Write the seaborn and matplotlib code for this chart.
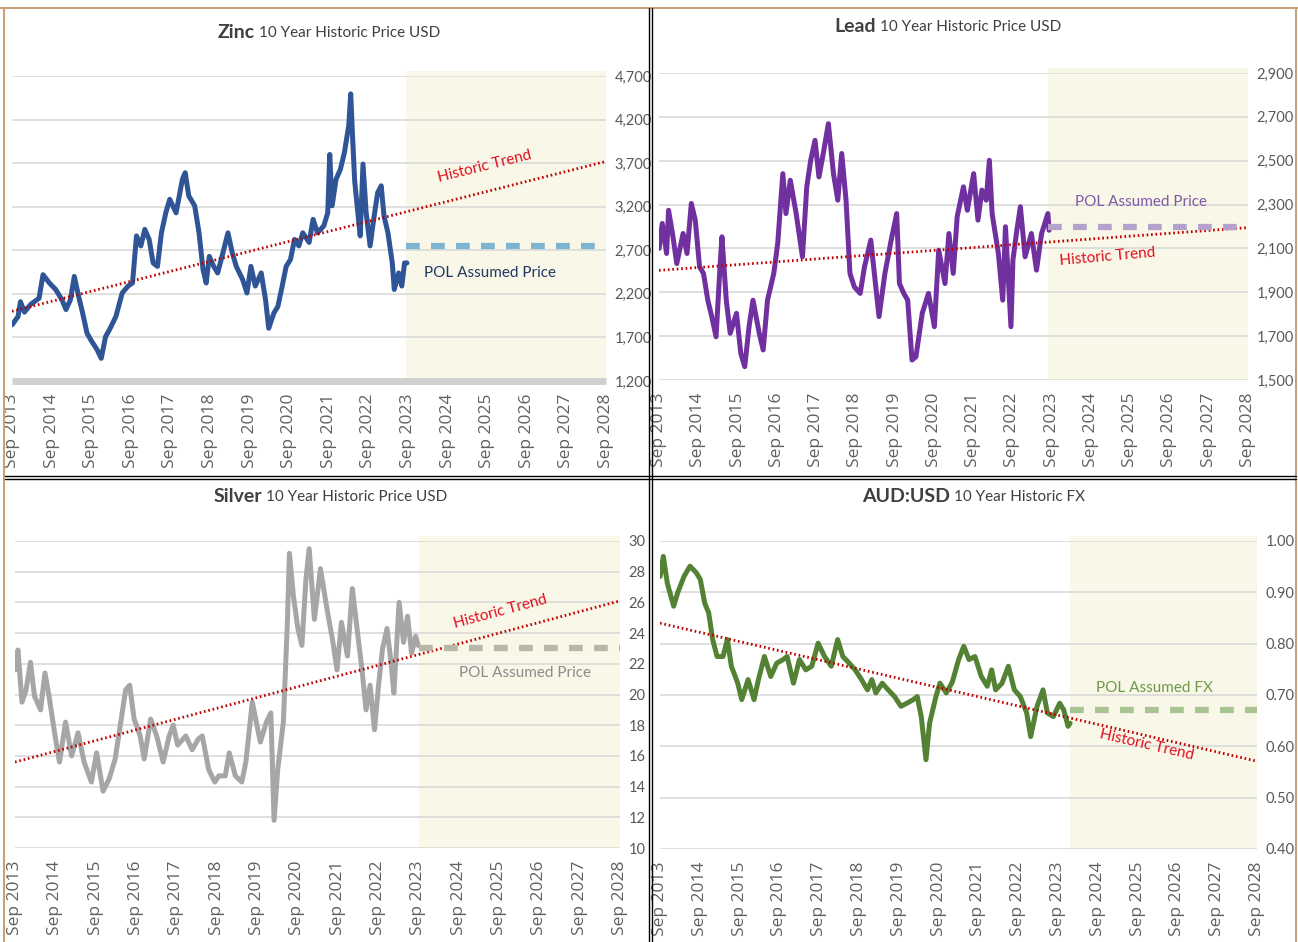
import numpy as np
import pandas as pd
import matplotlib
matplotlib.use('Agg')
import matplotlib.pyplot as plt
import seaborn as sns
from matplotlib.lines import Line2D

# --- data (decimal years, Sep = .667) ---
zinc_x = [2013.67, 2013.82, 2013.88, 2013.98, 2014.14, 2014.35, 2014.45, 2014.61, 2014.77, 2014.93,
          2015.03, 2015.14, 2015.24, 2015.35, 2015.45, 2015.56, 2015.66, 2015.82, 2015.92, 2016.03,
          2016.13, 2016.29, 2016.45, 2016.60, 2016.71, 2016.81, 2016.92, 2017.02, 2017.13, 2017.23,
          2017.34, 2017.44, 2017.55, 2017.65, 2017.81, 2017.97, 2018.04, 2018.13, 2018.28, 2018.39,
          2018.49, 2018.57, 2018.65, 2018.76, 2018.86, 2018.97, 2019.12, 2019.23, 2019.33, 2019.49,
          2019.60, 2019.70, 2019.81, 2019.96, 2020.07, 2020.15, 2020.28, 2020.38, 2020.49, 2020.59,
          2020.70, 2020.80, 2020.91, 2021.01, 2021.17, 2021.27, 2021.38, 2021.54, 2021.64, 2021.69,
          2021.75, 2021.85, 2021.96, 2022.06, 2022.17, 2022.22, 2022.27, 2022.32, 2022.40, 2022.46,
          2022.53, 2022.61, 2022.71, 2022.80, 2022.90, 2022.99, 2023.06, 2023.16, 2023.27, 2023.32,
          2023.43, 2023.51, 2023.58, 2023.64]
zinc_y = [1845, 1940, 2110, 1990, 2080, 2150, 2420, 2325, 2250, 2130,
          2020, 2130, 2400, 2170, 1980, 1750, 1670, 1555, 1460, 1710,
          1790, 1940, 2210, 2290, 2325, 2865, 2750, 2940, 2825, 2555,
          2515, 2900, 3130, 3285, 3130, 3515, 3590, 3325, 3210, 2900,
          2480, 2325, 2630, 2515, 2440, 2630, 2900, 2670, 2515, 2365,
          2210, 2515, 2290, 2440, 2130, 1805, 1980, 2055, 2290, 2515,
          2595, 2825, 2750, 2900, 2790, 3055, 2900, 2980, 3130, 3800,
          3210, 3515, 3630, 3820, 4130, 4495, 3975, 3495, 3130, 2865,
          3690, 3130, 2750, 3055, 3360, 3440, 3095, 2900, 2555, 2250,
          2440, 2290, 2555, 2555]

lead_x = [2013.67, 2013.75, 2013.86, 2013.91, 2014.01, 2014.12, 2014.28, 2014.38, 2014.49, 2014.59,
          2014.70, 2014.80, 2014.91, 2015.01, 2015.12, 2015.22, 2015.27, 2015.38, 2015.48, 2015.64,
          2015.75, 2015.85, 2015.96, 2016.06, 2016.22, 2016.32, 2016.43, 2016.59, 2016.69, 2016.82,
          2016.90, 2017.01, 2017.16, 2017.32, 2017.43, 2017.53, 2017.64, 2017.74, 2017.85, 2017.98,
          2018.11, 2018.22, 2018.32, 2018.43, 2018.53, 2018.64, 2018.79, 2018.90, 2019.06, 2019.16,
          2019.27, 2019.42, 2019.58, 2019.72, 2019.79, 2019.90, 2020.00, 2020.11, 2020.21, 2020.37,
          2020.53, 2020.68, 2020.79, 2020.95, 2021.05, 2021.16, 2021.26, 2021.42, 2021.52, 2021.68,
          2021.79, 2021.89, 2022.00, 2022.08, 2022.15, 2022.31, 2022.42, 2022.49, 2022.63, 2022.68,
          2022.78, 2022.87, 2022.99, 2023.15, 2023.28, 2023.41, 2023.57, 2023.60]
lead_y = [2100, 2214, 2077, 2274, 2168, 2031, 2168, 2077, 2305, 2229,
          2016, 1986, 1864, 1789, 1697, 2016, 2153, 1864, 1713, 1804,
          1621, 1561, 1743, 1864, 1713, 1637, 1864, 1986, 2123, 2441,
          2259, 2411, 2259, 2062, 2381, 2502, 2593, 2426, 2533, 2669,
          2441, 2320, 2533, 2320, 1986, 1925, 1895, 2016, 2138, 1971,
          1789, 1986, 2138, 2259, 1940, 1895, 1864, 1591, 1606, 1804,
          1895, 1743, 2092, 1940, 2168, 1986, 2244, 2381, 2274, 2441,
          2229, 2366, 2320, 2502, 2259, 2077, 1864, 2199, 1743, 2047,
          2183, 2290, 2062, 2168, 2001, 2168, 2259, 2183]

silver_x = [2013.67, 2013.74, 2013.84, 2013.94, 2014.05, 2014.15, 2014.30, 2014.41, 2014.51, 2014.66,
            2014.77, 2014.92, 2015.07, 2015.23, 2015.38, 2015.56, 2015.69, 2015.85, 2016.00, 2016.15,
            2016.26, 2016.41, 2016.51, 2016.62, 2016.77, 2016.87, 2017.03, 2017.18, 2017.34, 2017.49,
            2017.59, 2017.70, 2017.90, 2018.06, 2018.21, 2018.31, 2018.47, 2018.62, 2018.72, 2018.88,
            2018.98, 2019.13, 2019.29, 2019.39, 2019.55, 2019.65, 2019.75, 2019.90, 2020.01, 2020.09,
            2020.18, 2020.32, 2020.42, 2020.47, 2020.57, 2020.68, 2020.78, 2020.88, 2020.96, 2021.09,
            2021.24, 2021.40, 2021.55, 2021.65, 2021.76, 2021.91, 2022.03, 2022.17, 2022.27, 2022.37,
            2022.47, 2022.58, 2022.68, 2022.78, 2022.89, 2022.99, 2023.06, 2023.19, 2023.30, 2023.40,
            2023.50, 2023.60, 2023.66]
silver_y = [21.6, 22.9, 19.5, 20.3, 22.1, 19.9, 19.0, 21.4, 19.9, 17.3,
            15.6, 18.2, 16.0, 17.5, 15.6, 14.3, 16.2, 13.7, 14.5, 15.8,
            17.7, 20.3, 20.6, 18.4, 17.3, 15.8, 18.4, 17.3, 15.6, 17.3,
            18.0, 16.7, 17.3, 16.4, 17.1, 17.3, 15.1, 14.3, 14.7, 14.7,
            16.2, 14.7, 14.3, 15.6, 19.5, 18.2, 16.9, 18.2, 18.8, 11.8,
            15.1, 18.2, 24.7, 29.2, 26.4, 24.3, 23.2, 27.5, 29.5, 24.9,
            28.2, 25.6, 23.4, 21.6, 24.7, 22.5, 26.9, 23.8, 21.6, 19.0,
            20.6, 17.7, 20.6, 23.0, 24.3, 22.1, 20.1, 26.0, 23.4, 25.1,
            22.7, 23.8, 23.2]

aud_x = [2013.67, 2013.75, 2013.85, 2014.01, 2014.11, 2014.27, 2014.42, 2014.58, 2014.68, 2014.79,
         2014.89, 2014.99, 2015.10, 2015.25, 2015.36, 2015.46, 2015.62, 2015.72, 2015.88, 2016.03,
         2016.14, 2016.29, 2016.45, 2016.60, 2016.76, 2016.86, 2017.02, 2017.17, 2017.33, 2017.48,
         2017.64, 2017.80, 2017.97, 2018.13, 2018.26, 2018.42, 2018.57, 2018.73, 2018.88, 2018.99,
         2019.09, 2019.25, 2019.40, 2019.56, 2019.72, 2019.87, 2020.03, 2020.13, 2020.23, 2020.35,
         2020.44, 2020.60, 2020.70, 2020.86, 2021.01, 2021.17, 2021.30, 2021.43, 2021.58, 2021.74,
         2021.89, 2022.00, 2022.10, 2022.26, 2022.42, 2022.57, 2022.72, 2022.88, 2022.98, 2023.14,
         2023.29, 2023.40, 2023.55, 2023.71, 2023.81, 2023.92, 2023.97]
aud_y = [0.931, 0.970, 0.918, 0.873, 0.899, 0.931, 0.951, 0.938, 0.925, 0.879,
         0.860, 0.808, 0.775, 0.775, 0.808, 0.756, 0.723, 0.691, 0.730, 0.691,
         0.730, 0.775, 0.736, 0.762, 0.769, 0.775, 0.723, 0.769, 0.749, 0.756,
         0.801, 0.775, 0.756, 0.808, 0.775, 0.762, 0.749, 0.730, 0.710, 0.730,
         0.704, 0.723, 0.710, 0.697, 0.678, 0.684, 0.691, 0.697, 0.658, 0.574,
         0.645, 0.697, 0.723, 0.704, 0.725, 0.769, 0.795, 0.769, 0.775, 0.736,
         0.717, 0.749, 0.710, 0.723, 0.756, 0.710, 0.697, 0.665, 0.619, 0.678,
         0.710, 0.665, 0.658, 0.684, 0.671, 0.639, 0.645]

# trend endpoints (Sep 2013 -> Sep 2028) and POL assumption
zinc_trend = [2000, 3720]
lead_trend = [2000, 2195]
silver_trend = [15.6, 26.1]
aud_trend = [0.840, 0.571]
zinc_pol, lead_pol, silver_pol, aud_pol = 2750, 2200, 23.0, 0.67
forecast_start = {'zinc': 2023.62, 'lead': 2023.57, 'silver': 2023.68, 'aud': 2023.97}

years = list(range(2013, 2029))
x_ticks = [y + 8 / 12 for y in years]
x_labels = [f'Sep {y}' for y in years]
X0, X1 = x_ticks[0], x_ticks[-1]

sns.set_theme(style='white')
LABEL_FONT = ['Lato', 'DejaVu Sans']
plt.rcParams['font.family'] = LABEL_FONT

W, H = 1298, 942
fig = plt.figure(figsize=(W / 100, H / 100), dpi=100)
fig.patch.set_facecolor('white')

SHADE = '#f9f7e8'
GRID = '#d9d9d9'
TICKC = '#595959'
RED = '#e0101e'


def add_axes(px_left, px_right, px_top, px_bottom):
    return fig.add_axes([px_left / W, 1 - px_bottom / H, (px_right - px_left) / W, (px_bottom - px_top) / H])


def panel(ax, xs, ys, color, trend, pol, pol_color, shade_x, ylim, yticks, yfmt):
    ax.set_facecolor('none')
    ax.axvspan(shade_x, X1, ymin=0, ymax=1.015, color=SHADE, zorder=0, clip_on=False, lw=0)
    for yt in yticks:
        ax.axhline(yt, color=GRID, lw=1.2, zorder=1)
    sns.lineplot(x=xs, y=ys, color=color, linewidth=3.6, sort=False, ax=ax, zorder=3)
    ax.plot([X0, X1], trend, color='#c00000', lw=2.0, linestyle=(0, (0.6, 1.0)), zorder=4)
    ax.plot([shade_x, X1], [pol, pol], color=pol_color, lw=4.5, linestyle=(0, (2.2, 1.8)), zorder=4)
    ax.set_xlim(X0, X1)
    ax.set_ylim(*ylim)
    ax.set_xticks(x_ticks)
    ax.set_xticklabels(x_labels, rotation=90)
    for lbl in ax.get_xticklabels():
        lbl.set_fontfamily(['Open Sans', 'DejaVu Sans'])
        lbl.set_fontsize(12.5)
        lbl.set_color('#606060')
    ax.set_yticks(yticks)
    ax.set_yticklabels([yfmt(v) for v in yticks], fontsize=10.5, color=TICKC)
    ax.yaxis.tick_right()
    ax.tick_params(axis='y', length=0, pad=6)
    ax.tick_params(axis='x', length=0, pad=9)
    for s in ax.spines.values():
        s.set_visible(False)
    ax.grid(False)


# Zinc
ax1 = add_axes(12, 606, 76, 381)
panel(ax1, zinc_x, zinc_y, '#2f5597', zinc_trend, zinc_pol, '#7db5d1', forecast_start['zinc'],
      (1200, 4700), [1200, 1700, 2200, 2700, 3200, 3700, 4200, 4700], lambda v: f'{v:,.0f}')
ax1.axhline(1200, color='#d0d0d0', lw=5, zorder=2, solid_capstyle='butt', clip_on=False)
ax1.text(2025.6, 3660, 'Historic Trend', color=RED, fontsize=11, rotation=14, ha='center', va='center')
ax1.text(2025.75, 2440, 'POL Assumed Price', color='#203864', fontsize=11, ha='center', va='center')

# Lead
ax2 = add_axes(659, 1248, 73, 380)
panel(ax2, lead_x, lead_y, '#7030a0', lead_trend, lead_pol, '#b4a2cc', forecast_start['lead'],
      (1500, 2900), [1500, 1700, 1900, 2100, 2300, 2500, 2700, 2900], lambda v: f'{v:,.0f}')
ax2.text(2025.95, 2310, 'POL Assumed Price', color='#7f5aa8', fontsize=11, ha='center', va='center')
ax2.text(2025.1, 2062, 'Historic Trend', color=RED, fontsize=11, rotation=5, ha='center', va='center')

# Silver
ax3 = add_axes(15, 620, 541, 848)
panel(ax3, silver_x, silver_y, '#a6a6a6', silver_trend, silver_pol, '#b9b7aa', forecast_start['silver'],
      (10, 30), list(range(10, 31, 2)), lambda v: f'{v:.0f}')
ax3.text(2025.7, 25.4, 'Historic Trend', color=RED, fontsize=11, rotation=15, ha='center', va='center')
ax3.text(2026.3, 21.4, 'POL Assumed Price', color='#8c8c8c', fontsize=11, ha='center', va='center')

# AUD:USD
ax4 = add_axes(660, 1257, 541, 849)
panel(ax4, aud_x, aud_y, '#548235', aud_trend, aud_pol, '#a9c392', forecast_start['aud'],
      (0.4, 1.0), [0.4, 0.5, 0.6, 0.7, 0.8, 0.9, 1.0], lambda v: f'{v:.2f}')
ax4.text(2026.1, 0.714, 'POL Assumed FX', color='#6f9a4a', fontsize=11, ha='center', va='center')
ax4.text(2025.9, 0.603, 'Historic Trend', color=RED, fontsize=11, rotation=-13, ha='center', va='center')

# titles: bold name + regular description
titles = [(255, 32, 'Zinc', '10 Year Historic Price USD'),
          (876, 26, 'Lead', '10 Year Historic Price USD'),
          (262, 496, 'Silver', '10 Year Historic Price USD'),
          (950, 496, 'AUD:USD', '10 Year Historic FX')]
for px, py, bold, rest in titles:
    fig.text(px / W, 1 - py / H, bold, fontsize=14, fontweight='bold', color='#404040', ha='right', va='center')
    fig.text((px + 4) / W, 1 - (py + 1) / H, rest, fontsize=11, color='#404040', ha='left', va='center')


# panel borders
def fline(x0, y0, x1, y1, color, lw):
    fig.add_artist(Line2D([x0 / W, x1 / W], [1 - y0 / H, 1 - y1 / H], color=color, lw=lw))


TAN = '#c9a07c'
fline(0, 8, W, 8, TAN, 1.5)
fline(4, 8, 4, H, TAN, 1.5)
fline(1296, 8, 1296, H, TAN, 1.5)
fline(649, 8, 649, H, 'black', 1.0)
fline(652, 8, 652, H, 'black', 1.0)
fline(5, 476, 1296, 476, 'black', 1.0)
fline(5, 479, 1296, 479, 'black', 1.0)

fig.savefig('out.png', dpi=100, facecolor='white')
